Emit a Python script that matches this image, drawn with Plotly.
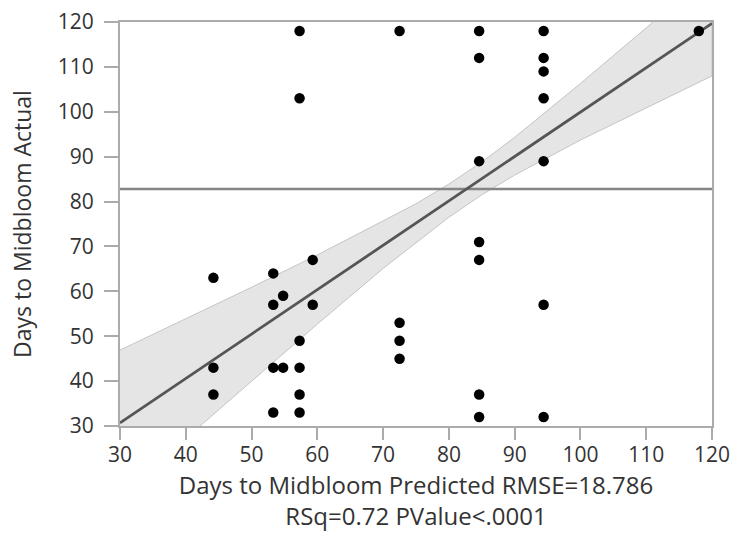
import plotly.graph_objects as go

# Observed points (predicted, actual)
predicted = [57.3, 72.5, 57.3, 84.6, 84.6, 94.4, 94.4, 94.4, 94.4, 84.6, 94.4, 118.0,
             44.2, 53.3, 59.3, 54.8, 53.3, 59.3, 57.3, 72.5, 72.5, 72.5,
             44.2, 53.3, 54.8, 57.3, 44.2, 57.3, 53.3, 57.3,
             84.6, 84.6, 94.4, 84.6, 84.6, 94.4]
actual = [118, 118, 103, 118, 112, 118, 112, 109, 103, 89, 89, 118,
          63, 64, 67, 59, 57, 57, 49, 53, 49, 45,
          43, 43, 43, 43, 37, 37, 33, 33,
          71, 67, 57, 37, 32, 32]

# Fit line and confidence band
band_x = [30, 40, 50, 60, 70, 75, 80, 85, 90, 100, 110, 120]
fit_y = [30.7, 40.6, 50.5, 60.4, 70.3, 75.2, 80.2, 85.1, 90.1, 100.0, 109.8, 119.7]
upper_y = [46.9, 53.9, 60.9, 68.1, 75.6, 79.5, 83.9, 88.8, 94.3, 106.3, 118.7, 131.4]
lower_y = [14.5, 27.3, 40.1, 52.7, 65.1, 70.9, 76.5, 81.5, 85.9, 93.7, 100.9, 108.0]

mean_actual = 82.8
x_range = [30, 120]
y_range = [30, 120]
ticks = [30, 40, 50, 60, 70, 80, 90, 100, 110, 120]

FONT = "Open Sans, sans-serif"
TXT = "#333333"

fig = go.Figure()

fig.add_trace(go.Scatter(
    x=band_x + band_x[::-1], y=upper_y + lower_y[::-1],
    fill="toself", fillcolor="#e5e5e5",
    line=dict(color="#c4c4c4", width=1), mode="lines",
    hoverinfo="skip", showlegend=False))

fig.add_trace(go.Scatter(
    x=x_range, y=[mean_actual, mean_actual], mode="lines",
    line=dict(color="#858585", width=2.4), showlegend=False))

fig.add_trace(go.Scatter(
    x=band_x, y=fit_y, mode="lines",
    line=dict(color="#555555", width=2.8), showlegend=False))

fig.add_trace(go.Scatter(
    x=predicted, y=actual, mode="markers",
    marker=dict(color="black", size=10.5), cliponaxis=False, showlegend=False))

axis_common = dict(
    showgrid=False, zeroline=False, showline=True, mirror=True,
    linecolor="#ababab", linewidth=2, automargin=False,
    ticks="outside", tickcolor="#ababab", tickwidth=2,
    tickvals=ticks, ticktext=[str(t) for t in ticks],
    tickfont=dict(family=FONT, size=21, color=TXT),
)

fig.update_layout(
    width=736, height=534,
    margin=dict(l=120, r=24, t=22, b=108),
    paper_bgcolor="white", plot_bgcolor="white",
    xaxis=dict(range=x_range, ticklen=12, ticklabelstandoff=-3,
               title=dict(text="Days to Midbloom Predicted RMSE=18.786<br>RSq=0.72 PValue<.0001",
                          font=dict(family=FONT, size=24, color=TXT),
                          standoff=8),
               **axis_common),
    yaxis=dict(range=y_range, ticklen=14, ticklabelstandoff=6,
               title=dict(text="Days to Midbloom Actual",
                          font=dict(family=FONT, size=23, color=TXT),
                          standoff=20),
               **axis_common),
)

fig.write_html("out.html")
